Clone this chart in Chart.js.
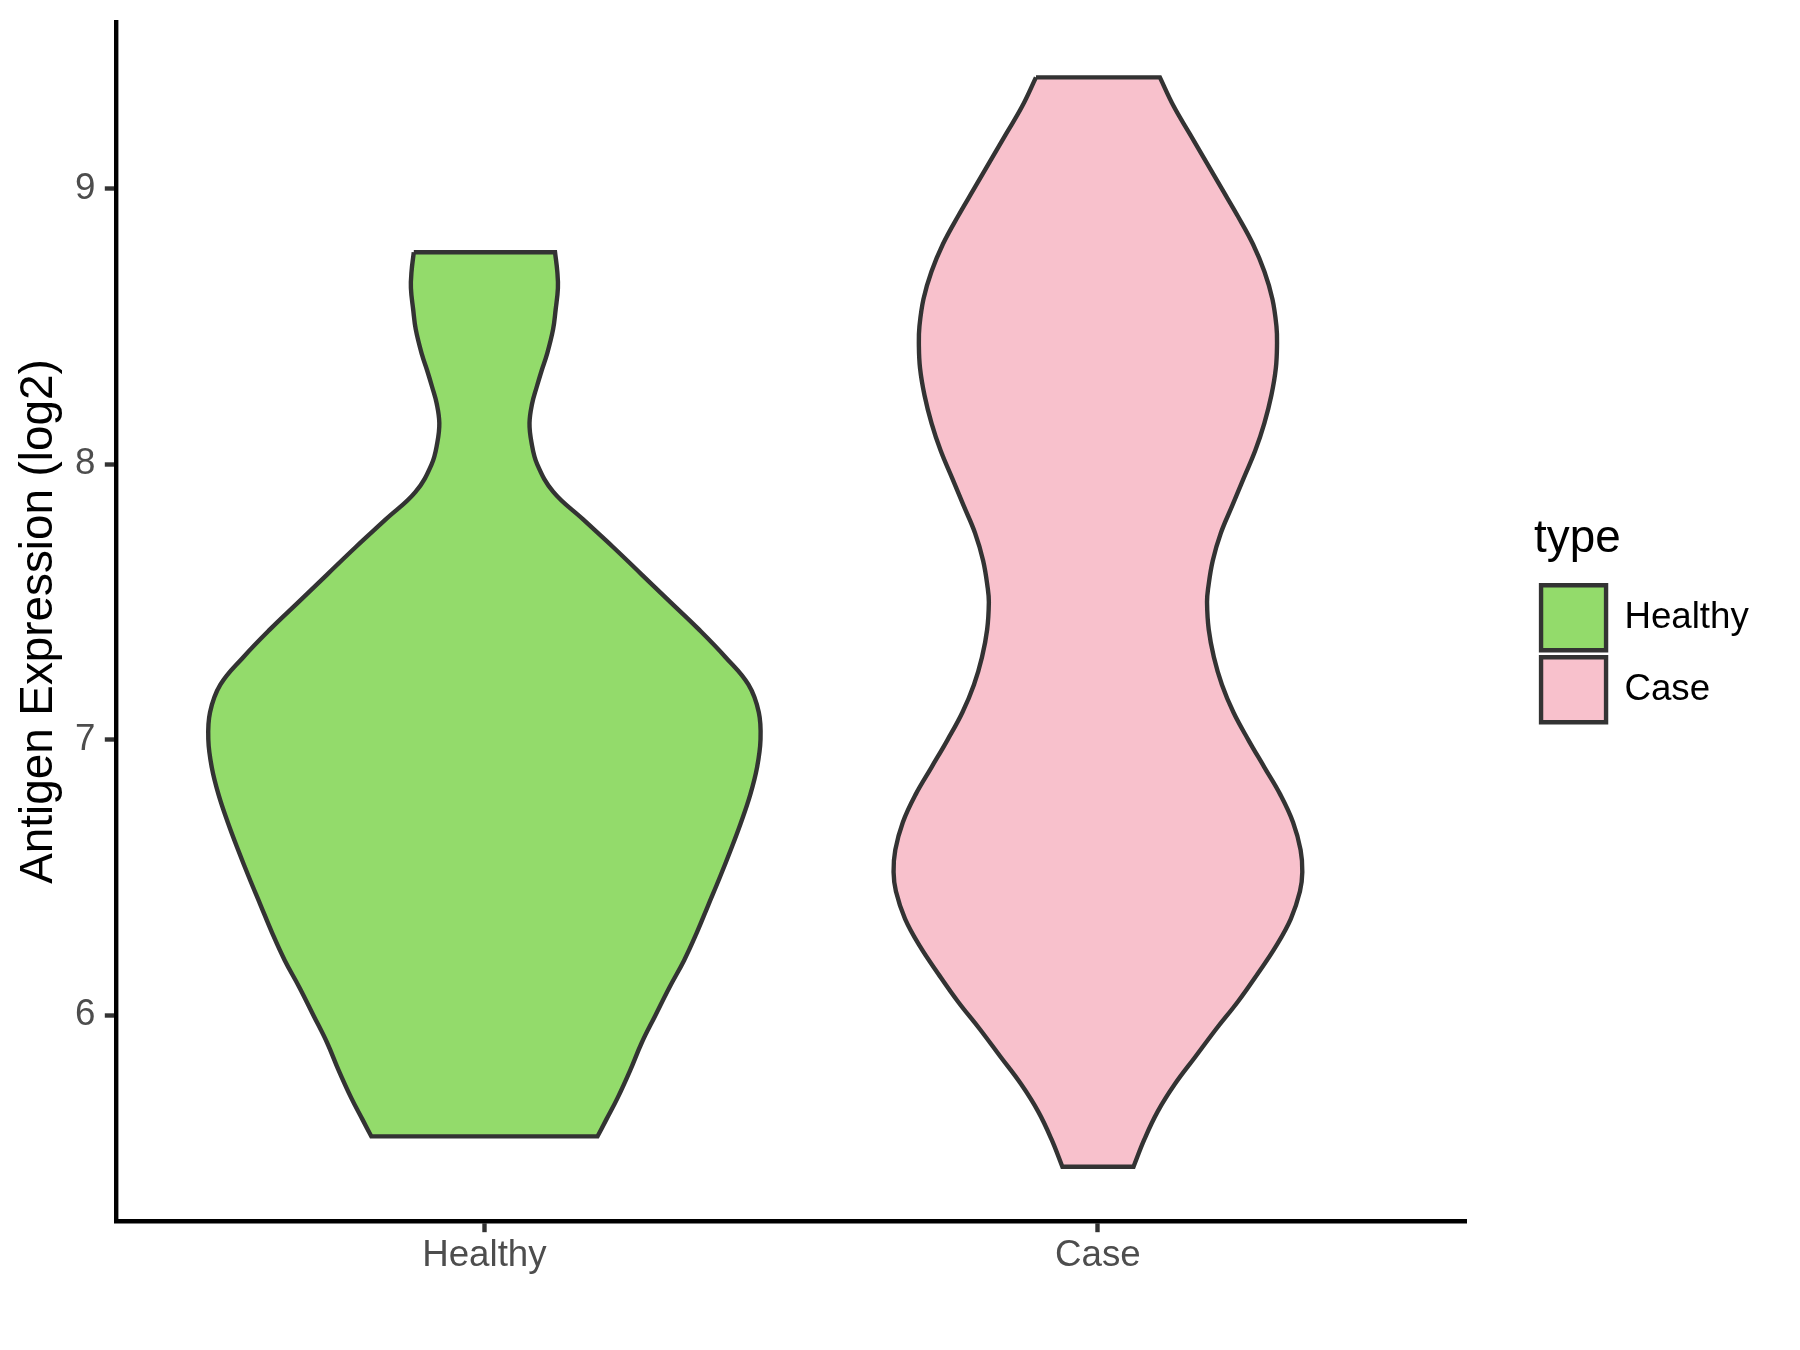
<!DOCTYPE html>
<html>
<head>
<meta charset="utf-8">
<script src="https://cdn.jsdelivr.net/npm/chart.js@4.4.1/dist/chart.umd.min.js"></script>
<style>
  html, body { margin: 0; padding: 0; background: #ffffff; }
  #wrap { width: 1800px; height: 1350px; position: relative; }
</style>
</head>
<body>
<div id="wrap"><canvas id="violinChart"></canvas></div>
<script>
// categories (x positions 1 and 2)
const categories = ['Healthy', 'Case'];

// violin outlines: expression value and half-width (x-axis units)
const healthyY = [8.77, 8.70, 8.64, 8.56, 8.49, 8.40, 8.34, 8.28, 8.22, 8.15, 8.08, 8.00, 7.90, 7.80, 7.70, 7.60, 7.50, 7.40, 7.30, 7.20, 7.10, 7.00,
                  6.90, 6.80, 6.70, 6.60, 6.50, 6.40, 6.30, 6.20, 6.10, 6.00, 5.90, 5.80, 5.70, 5.62, 5.56];
const healthyHalf = [0.1151, 0.1188, 0.1198, 0.1160, 0.1119, 0.1020, 0.0932, 0.0851, 0.0777, 0.0735, 0.0767, 0.0861, 0.1123, 0.1609, 0.2096, 0.2564,
                     0.3031, 0.3499, 0.3930, 0.4304, 0.4472, 0.4500, 0.4444, 0.4332, 0.4182, 0.4014, 0.3836, 0.3649, 0.3462, 0.3256, 0.3013, 0.2788,
                     0.2564, 0.2376, 0.2171, 0.1984, 0.1843];

const caseY = [9.405, 9.30, 9.20, 9.10, 9.00, 8.90, 8.80, 8.70, 8.60, 8.50, 8.44, 8.35, 8.25, 8.15, 8.05, 7.95, 7.85, 7.75, 7.65, 7.55, 7.50, 7.40,
               7.30, 7.20, 7.10, 7.00, 6.90, 6.80, 6.70, 6.60, 6.52, 6.45, 6.35, 6.25, 6.15, 6.05, 5.95, 5.85, 5.75, 5.65, 5.55, 5.45];
const caseHalf = [0.1010, 0.1235, 0.1497, 0.1759, 0.2021, 0.2283, 0.2526, 0.2713, 0.2844, 0.2910, 0.2919, 0.2900, 0.2826, 0.2713, 0.2564, 0.2376,
                  0.2189, 0.2002, 0.1871, 0.1796, 0.1778, 0.1806, 0.1890, 0.2021, 0.2208, 0.2451, 0.2713, 0.2975, 0.3181, 0.3303, 0.3331, 0.3293,
                  0.3144, 0.2900, 0.2601, 0.2283, 0.1927, 0.1591, 0.1254, 0.0973, 0.0758, 0.0580];

// axis ticks and ranges
const yTicks = [6, 7, 8, 9];
const yMin = 5.254, yMax = 9.605;
const xMin = 0.4, xMax = 2.6;

Chart.defaults.font.family = '"Liberation Sans", Arial, Helvetica, sans-serif';

// closed outline: left side going down, right side going up.
// corner points are doubled so the flat ends stay straight with tension
function violinOutline(center, ys, halves) {
    const n = ys.length;
    const pts = [];
    pts.push({x: center - halves[0], y: ys[0]});
    for (let i = 0; i < n; i++) pts.push({x: center - halves[i], y: ys[i]});
    pts.push({x: center - halves[n - 1], y: ys[n - 1]});
    pts.push({x: center + halves[n - 1], y: ys[n - 1]});
    for (let i = n - 1; i >= 0; i--) pts.push({x: center + halves[i], y: ys[i]});
    pts.push({x: center + halves[0], y: ys[0]});
    pts.push({x: center - halves[0], y: ys[0]});
    return pts;
}

const tickGrid = {
    drawOnChartArea: false,
    drawTicks: true,
    tickLength: 11.5,
    tickWidth: 4.4,
    tickColor: '#333333'
};
const axisBorder = { display: true, color: '#000000', width: 4.4 };

const ctx = document.getElementById('violinChart').getContext('2d');

const chart = new Chart(ctx, {
    type: 'line',
    data: {
        datasets: [{
            label: categories[0],
            data: violinOutline(1, healthyY, healthyHalf),
            backgroundColor: 'rgb(147, 219, 107)',
            borderColor: '#333333',
            borderWidth: 4.4,
            fill: 'shape',
            tension: 0.4,
            pointRadius: 0,
            pointHoverRadius: 0,
            pointHitRadius: 0
        },
        {
            label: categories[1],
            data: violinOutline(2, caseY, caseHalf),
            backgroundColor: 'rgb(248, 193, 204)',
            borderColor: '#333333',
            borderWidth: 4.4,
            fill: 'shape',
            tension: 0.4,
            pointRadius: 0,
            pointHoverRadius: 0,
            pointHitRadius: 0
        }]
    },
    options: {
        responsive: true,
        maintainAspectRatio: false,
        animation: false,
        events: [],
        layout: { padding: { top: 22.3, right: 41.2, bottom: 0, left: 0 } },
        scales: {
            x: {
                type: 'linear',
                min: xMin,
                max: xMax,
                afterBuildTicks: s => { s.ticks = categories.map((c, i) => ({ value: i + 1 })); },
                ticks: {
                    callback: v => categories[Math.round(v) - 1],
                    color: '#4d4d4d',
                    font: { size: 36.7 },
                    padding: 1.5,
                    autoSkip: false,
                    maxRotation: 0
                },
                grid: tickGrid,
                border: axisBorder,
                afterFit: s => { s.height = 129.3; s.paddingLeft = 0; s.paddingRight = 0; }
            },
            y: {
                type: 'linear',
                min: yMin,
                max: yMax,
                afterBuildTicks: s => { s.ticks = yTicks.map(v => ({ value: v })); },
                ticks: {
                    color: '#4d4d4d',
                    font: { size: 36.7 },
                    padding: 9.5
                },
                grid: tickGrid,
                border: axisBorder,
                title: {
                    display: true,
                    text: 'Antigen Expression (log2)',
                    color: '#000000',
                    font: { size: 45.8 },
                    padding: { top: 12, bottom: 0 }
                },
                afterFit: s => { s.width = 116.3; s.paddingTop = 0; s.paddingBottom = 0; }
            },
            // empty axis that only keeps the gap between the panel and the legend
            gap: {
                type: 'linear',
                position: 'right',
                display: true,
                grid: { display: false, drawTicks: false },
                border: { display: false },
                ticks: { display: false },
                afterFit: s => { s.width = 68; s.paddingTop = 0; s.paddingBottom = 0; }
            }
        },
        plugins: {
            tooltip: { enabled: false },
            legend: {
                position: 'right',
                align: 'center',
                fullSize: false,
                title: {
                    display: true,
                    text: 'type',
                    position: 'start',
                    color: '#000000',
                    font: { size: 45.8 },
                    padding: { top: 2.5, bottom: 7.1 }
                },
                labels: {
                    boxWidth: 65,
                    boxHeight: 65,
                    padding: 7,
                    color: '#000000',
                    font: { size: 36.7 }
                }
            }
        }
    }
});
</script>
</body>
</html>
